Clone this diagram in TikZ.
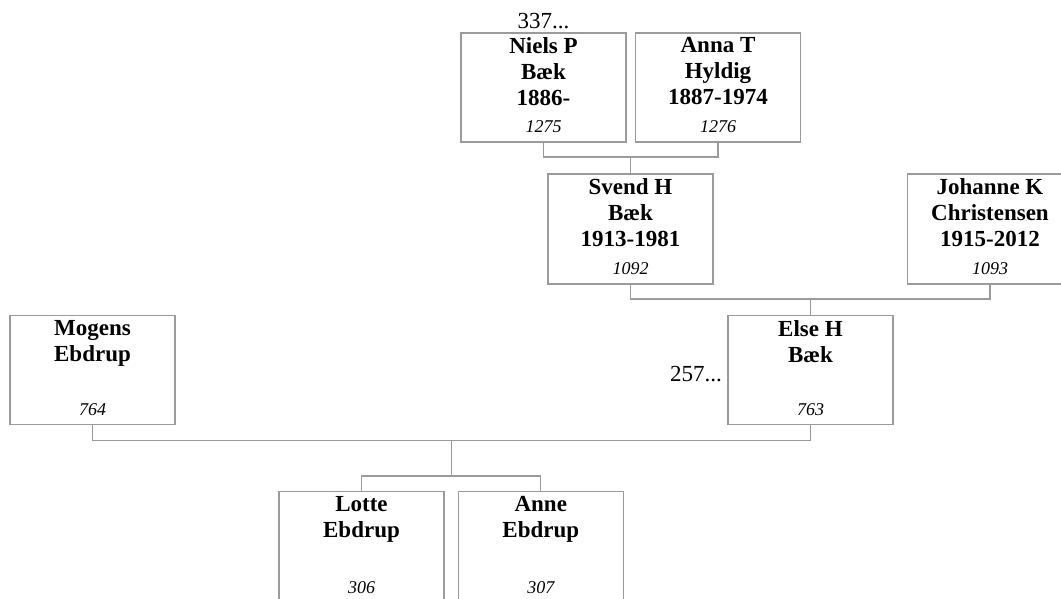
\documentclass[tikz,border=0pt]{standalone}
\usepackage{fontspec}
\setmainfont{Liberation Serif}
\definecolor{linegray}{RGB}{155,155,155}
\begin{document}
\begin{tikzpicture}[x=1pt,y=-1pt,
  person/.style={draw=linegray, line width=1.3pt, minimum width=165pt, minimum height=109pt, inner sep=0pt, outer sep=0pt},
  tallperson/.style={person, minimum height=111pt},
  namet/.style={anchor=north, inner sep=0pt, align=center, font=\fontsize{23}{26}\selectfont\bfseries},
  numt/.style={anchor=base, inner sep=0pt, font=\fontsize{18}{20}\selectfont\itshape},
  extra/.style={inner sep=0pt, font=\fontsize{23}{26}\selectfont},
  link/.style={draw=linegray, line width=1.3pt}
]
\useasboundingbox (0,0) rectangle (1061,598);

% boxes
\node[person] (niels) at (543.5,87.5) {};
\node[person] (anna) at (718,87.5) {};
\node[person, minimum height=110pt] (svend) at (630.5,229) {};
\node[person, minimum height=110pt] (johanne) at (990,229) {};
\node[person] (mogens) at (92.5,370) {};
\node[person] (elseh) at (810.5,370) {};
\node[tallperson] (lotte) at (361.5,547.2) {};
\node[tallperson] (anne) at (540.8,547.2) {};

% names
\node[namet] (nielsN) at ([yshift=-4.5pt]niels.north) {Niels P\\Bæk\\1886-};
\node[namet] (annaN) at ([yshift=-4.5pt]anna.north) {Anna T\\Hyldig\\1887-1974};
\node[namet] (svendN) at ([yshift=-4.5pt]svend.north) {Svend H\\Bæk\\1913-1981};
\node[namet] (johanneN) at ([yshift=-4.5pt]johanne.north) {Johanne K\\Christensen\\1915-2012};
\node[namet] (mogensN) at ([yshift=-4.5pt]mogens.north) {Mogens\\Ebdrup};
\node[namet] (elsehN) at ([yshift=-4.5pt]elseh.north) {Else H\\Bæk};
\node[namet] (lotteN) at ([yshift=-4.5pt]lotte.north) {Lotte\\Ebdrup};
\node[namet] (anneN) at ([yshift=-4.5pt]anne.north) {Anne\\Ebdrup};

% numbers
\node[numt] (nielsI) at ([yshift=10pt]niels.south) {1275};
\node[numt] (annaI) at ([yshift=10pt]anna.south) {1276};
\node[numt] (svendI) at ([yshift=9.5pt]svend.south) {1092};
\node[numt] (johanneI) at ([yshift=9.5pt]johanne.south) {1093};
\node[numt] (mogensI) at ([yshift=9.5pt]mogens.south) {764};
\node[numt] (elsehI) at ([yshift=9.5pt]elseh.south) {763};
\node[numt] (lotteI) at ([yshift=9.5pt]lotte.south) {306};
\node[numt] (anneI) at ([yshift=9.5pt]anne.south) {307};

% extra labels
\node[extra, anchor=base] (more1) at (543.5,28.3) {337...};
\node[extra, anchor=base east] (more2) at (722,381.7) {257...};

% connectors
\coordinate (j1) at (630.5,157);
\coordinate (j2) at (810.5,299);
\coordinate (j3) at (451.5,440.5);
\coordinate (j4) at (451.5,476);
\draw[link] (niels.south) |- (j1) -| (anna.south);
\draw[link] (j1) -- (svend.north);
\draw[link] (svend.south) |- (j2) -| (johanne.south);
\draw[link] (j2) -- (elseh.north);
\draw[link] (mogens.south) |- (j3) -| (elseh.south);
\draw[link] (j3) -- (j4);
\draw[link] (lotte.north) |- (j4) -| (anne.north);
\end{tikzpicture}
\end{document}
